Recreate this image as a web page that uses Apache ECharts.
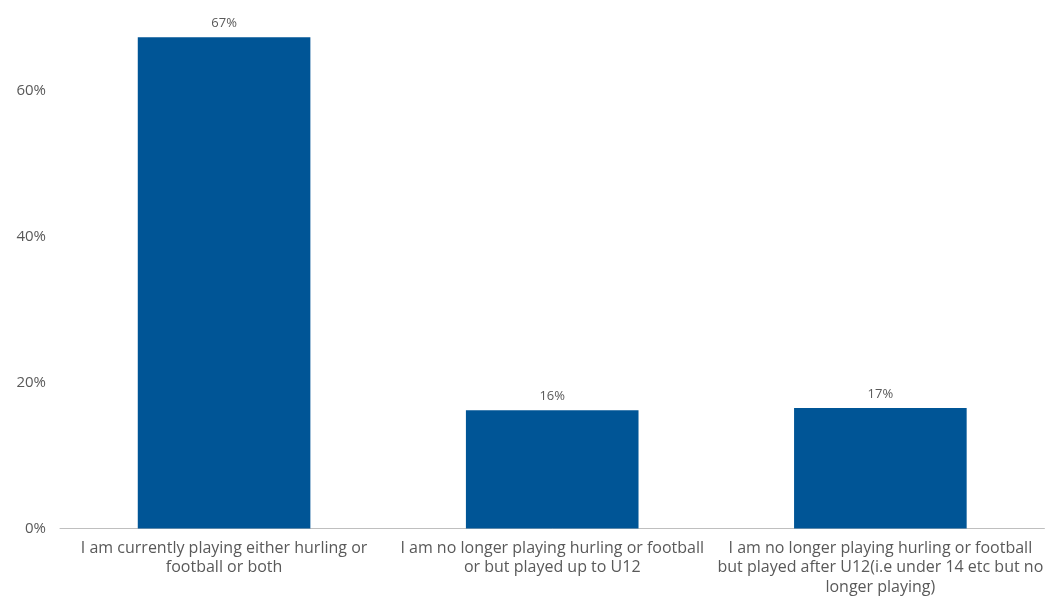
<!DOCTYPE html>
<html>
<head>
<meta charset="utf-8">
<script src="https://cdn.jsdelivr.net/npm/echarts@6/dist/echarts.min.js"></script>
<style>
html,body{margin:0;padding:0;background:#fff;overflow:hidden;}
#chart{width:1046px;height:597px;}
</style>
</head>
<body>
<div id="chart"></div>
<script>
const categories = [
  "I am currently playing either hurling or\nfootball or both",
  "I am no longer playing hurling or football\nor but played up to U12",
  "I am no longer playing hurling or football\nbut played after U12(i.e under 14 etc but no\nlonger playing)"
];
const values = [67.3, 16.2, 16.5];
const labels = ["67%", "16%", "17%"];

const chart = echarts.init(document.getElementById('chart'));
chart.setOption({
  animation: false,
  grid: {left: 60, right: 0, top: 17.5, bottom: 65, containLabel: false},
  xAxis: {
    type: 'category',
    data: categories,
    axisLine: {show: true, lineStyle: {color: '#bfbfbf', width: 1}},
    axisTick: {show: false},
    axisLabel: {
      interval: 0,
      color: '#595959',
      fontFamily: '"Open Sans", sans-serif',
      fontSize: 16,
      lineHeight: 19.5,
      margin: 10
    }
  },
  yAxis: {
    type: 'value',
    min: 0,
    max: 70,
    interval: 20,
    splitLine: {show: false},
    axisLine: {show: false},
    axisTick: {show: false},
    axisLabel: {
      showMaxLabel: false,
      formatter: v => v + '%',
      color: '#595959',
      fontFamily: '"Open Sans", sans-serif',
      fontSize: 15,
      margin: 14
    }
  },
  series: [{
    type: 'bar',
    data: values,
    barWidth: '52.6%',
    itemStyle: {color: '#005596'},
    label: {
      show: true,
      position: 'top',
      distance: 7,
      formatter: p => labels[p.dataIndex],
      color: '#595959',
      fontFamily: '"Open Sans", sans-serif',
      fontSize: 13
    }
  }]
});
</script>
</body>
</html>
